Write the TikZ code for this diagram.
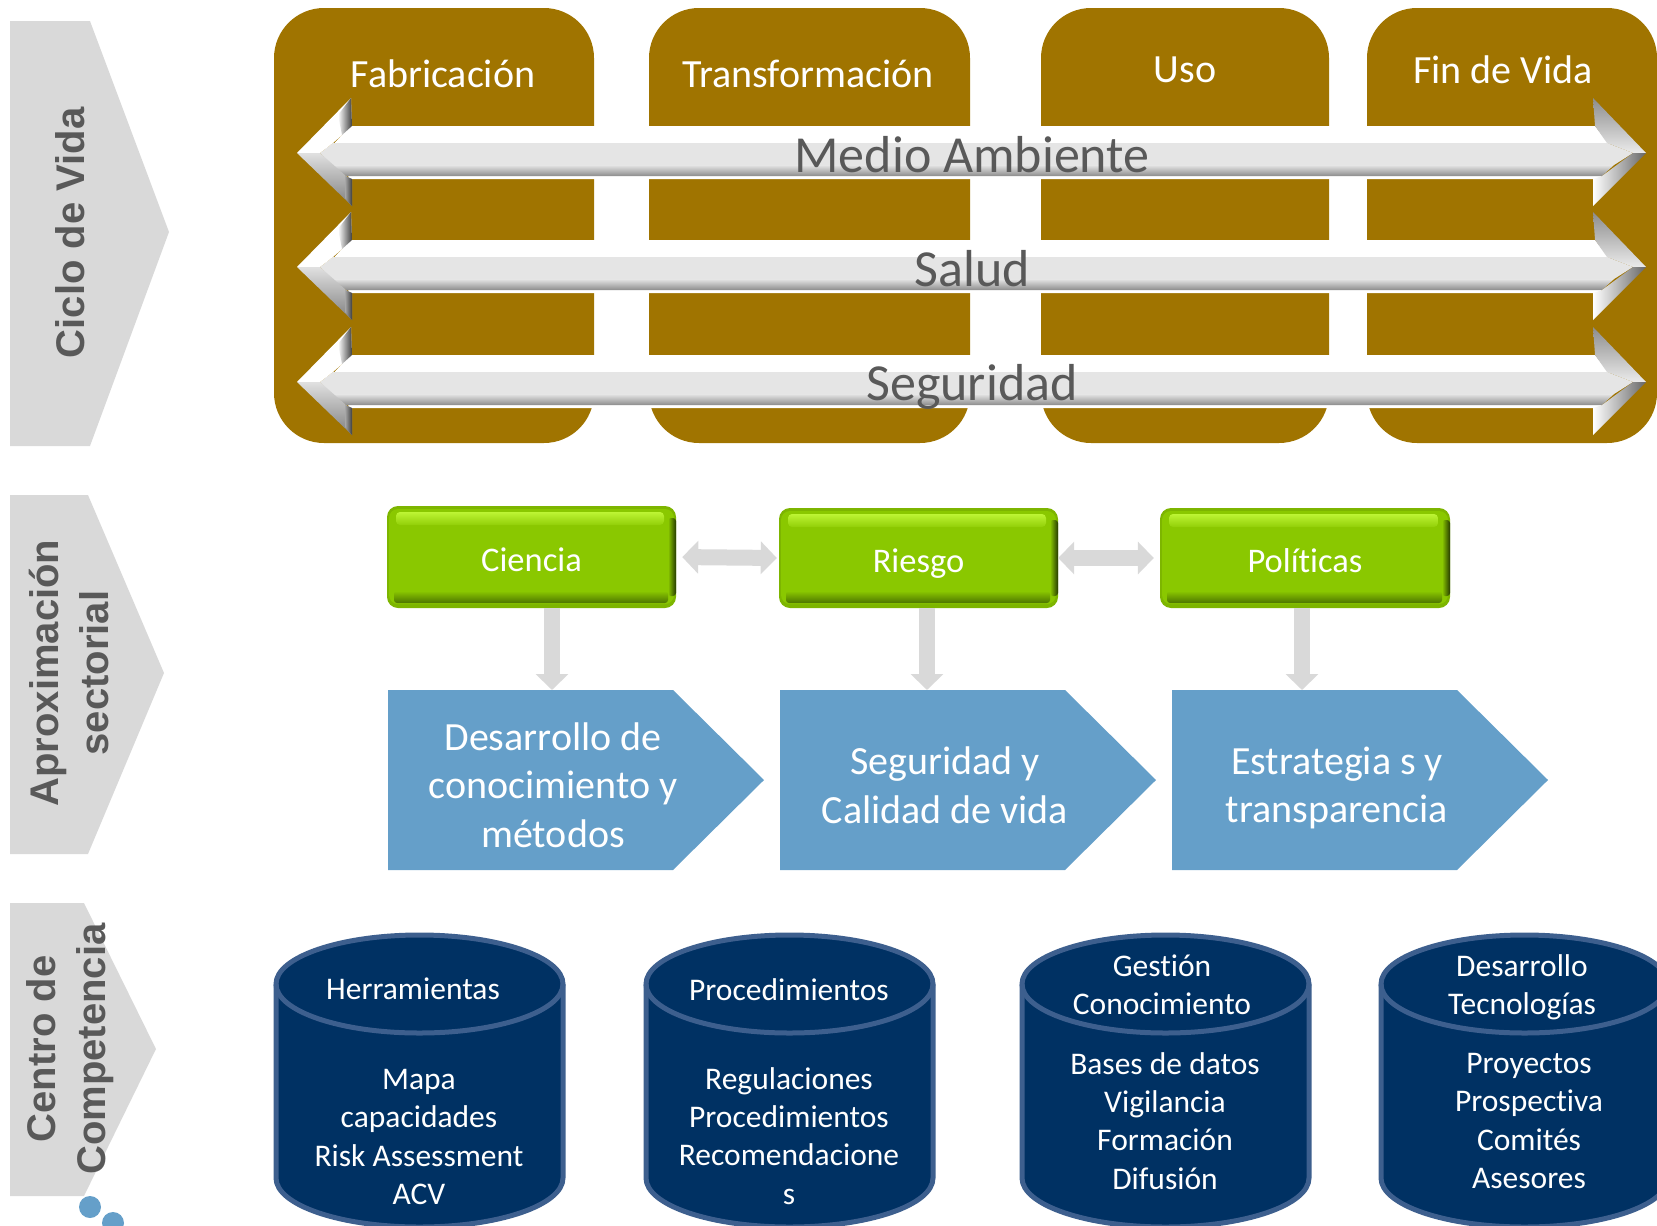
\documentclass[tikz,border=0pt]{standalone}
\usepackage{fontspec}
\setmainfont[Ligatures=NoCommon]{Carlito}
\newfontfamily\sidefont{Liberation Sans}
\usetikzlibrary{arrows.meta}
\definecolor{brownbox}{HTML}{A07400}
\definecolor{bluebox}{HTML}{659FC9}
\definecolor{navybox}{HTML}{003163}
\definecolor{navyline}{HTML}{3D5F8E}
\definecolor{sidegray}{HTML}{D9D9D9}
\definecolor{textgray}{HTML}{595959}
\definecolor{greenface}{HTML}{8AC800}
\definecolor{greenedge}{HTML}{7DB500}
\definecolor{greendark}{HTML}{263A00}
\definecolor{greenlow}{HTML}{4D7500}
\definecolor{greenlight}{HTML}{BDF534}
\begin{document}
\begin{tikzpicture}[
        x=1pt, y=-1pt,
        sidelabel/.style={rotate=90, text=textgray, align=center,
            font=\sidefont\bfseries\fontsize{40}{50}\selectfont},
        stagelabel/.style={text=white, font=\fontsize{40}{46}\selectfont},
        bandlabel/.style={text=textgray, font=\fontsize{52}{60}\selectfont},
        greenbox/.style={text=white, inner sep=0pt, text height=36pt, text depth=7pt,
            font=\fontsize{34.5}{40}\selectfont},
        chevlabel/.style={text=white, align=center, inner sep=0pt,
            font=\fontsize{40}{48.5}\selectfont},
        cyllabel/.style={text=white, align=center, inner sep=0pt,
            font=\fontsize{31.5}{38.3}\selectfont},
        blockarrow/.style={draw=sidegray, line width=16pt},
        bothtips/.style={{Triangle[length=16pt,width=32pt]}-{Triangle[length=16pt,width=32pt]}},
        downtip/.style={-{Triangle[length=16pt,width=32pt]}}
    ]
        \useasboundingbox (0,0) rectangle (1657,1226);
        \clip (0,0) rectangle (1657,1226);
        % Side chevrons
        \fill[sidegray] (10,21) -- (90,21) -- (169,232) -- (90,446) -- (10,446) -- cycle;
        \fill[sidegray] (10,495) -- (88,495) -- (164,673) -- (88,854) -- (10,854) -- cycle;
        \fill[sidegray] (10,903) -- (84,903) -- (156,1049) -- (84,1196) -- (10,1196) -- cycle;
        \node[sidelabel] (ciclo) at (70,233) {Ciclo de Vida};
        \node[sidelabel] (aprox) at (69,673) {Aproximación\\sectorial};
        \node[sidelabel] (centro) at (70,1049) {Centro de\\Competencia};
        \fill[bluebox] (90,1207) circle (11) (113,1223) circle (11);

        % Life cycle stages
        \foreach \xa/\xb/\lx/\ly/\name/\txt in {
            274/594/443/74/fabricacion/Fabricación,
            649/970/808/74/transformacion/Transformación,
            1041/1329/1185/70/uso/Uso,
            1367/1657/1503/70/fin/Fin de Vida
        } {
            \fill[brownbox, rounded corners=50pt] (\xa,8) rectangle (\xb,443);
            \node[stagelabel] (\name) at (\lx,\ly) {\txt};
        }

        % Cross-cutting bands
        \foreach \t/\dy/\name/\txt in {
            153/2/medio/Medio Ambiente,
            267/2/salud/Salud,
            382/5/seguridad/Seguridad
        } {
            \fill[white] (350,\t-27) -- (1595,\t-27) -- (1612,\t-5) -- (1600,\t+26) -- (350,\t+26) -- (330,\t-5) -- cycle;
            \fill[black!10] (333,\t-10) -- (1607,\t-10) -- (1633,\t) -- (1614,\t+12) -- (332,\t+12) -- (320,\t) -- cycle;
            \shade[top color=black!10, bottom color=black!45] (332,\t+12) -- (1614,\t+12) -- (1602,\t+23) -- (346,\t+23) -- cycle;
            % left head
            \fill[white] (297,\t) -- (351,\t-55) -- (352,\t-27) -- (333,\t-10) -- (320,\t) -- cycle;
            \shade[top color=black!12, bottom color=black!50] (297,\t) -- (320,\t) -- (346,\t+23)
                -- (352,\t+26) -- (352,\t+53) -- cycle;
            \shade[left color=white, right color=black!75] (338,\t-38) -- (351,\t-55) -- (352,\t-27) -- (342,\t-18) -- cycle;
            \shade[left color=black!35, right color=black!75] (345,\t+23) -- (352,\t+26) -- (352,\t+53) -- (345,\t+45) -- cycle;
            % right head
            \shade[top color=black!45, bottom color=black!8] (1593,\t-55) -- (1646,\t) -- (1633,\t) -- (1607,\t-10) -- (1595,\t-27) -- cycle;
            \shade[left color=white, right color=black!60] (1646,\t) -- (1633,\t) -- (1602,\t+23)
                -- (1593,\t+26) -- (1593,\t+53) -- cycle;
            \node[bandlabel] (\name) at (972,\t+\dy) {\txt};
        }

        % Sector boxes
        \foreach \xa/\xb/\ya/\name/\txt in {
            387/676/506/ciencia/Ciencia,
            779/1058/508/riesgo/Riesgo,
            1160/1450/508/politicas/Políticas
        } {
            \fill[greenedge, rounded corners=11pt] (\xa,\ya) rectangle (\xb,608);
            \fill[greenface, rounded corners=9pt] (\xa+2,\ya+3) rectangle (\xb-2,604);
            \shade[top color=greenlight, bottom color=greenface!85!greenlight, rounded corners=4pt] (\xa+9,\ya+6) rectangle (\xb-12,\ya+19);
            \shade[left color=greenface, right color=greendark, rounded corners=3pt] (\xb-8,\ya+12) rectangle (\xb,596);
            \shade[top color=greenface, bottom color=greenlow, rounded corners=3pt] (\xa+7,591) rectangle (\xb-8,603);
            \node[greenbox, minimum width=\xb-\xa, minimum height=608-\ya] (\name)
                at ({(\xa+\xb)/2},{(\ya+608)/2}) {\txt};
        }

        % Sector chevrons
        \foreach \cx in {388,780,1172} {
            \fill[bluebox] (\cx,690) -- (\cx+285,690) -- (\cx+376,780) -- (\cx+285,870) -- (\cx,870) -- cycle;
        }
        \node[chevlabel] (desarrollo) at (553,785) {Desarrollo de\\conocimiento y\\métodos};
        \node[chevlabel] (calidad) at (945,785) {Seguridad y\\Calidad de vida};
        \node[chevlabel] (estrategia) at (1337,788) {Estrategia s y\\transparencia};
        \coordinate (tipa) at (552,690);
        \coordinate (tipb) at (927,690);
        \coordinate (tipc) at (1302,690);

        % Connectors
        \draw[blockarrow, bothtips, shorten >=2pt, shorten <=6pt] (ciencia.east) -- (riesgo.west);
        \draw[blockarrow, bothtips, shorten >=6pt] (riesgo.east) -- (politicas.west);
        \draw[blockarrow, downtip] (ciencia.south -| tipa) -- (tipa);
        \draw[blockarrow, downtip] (riesgo.south -| tipb) -- (tipb);
        \draw[blockarrow, downtip] (politicas.south -| tipc) -- (tipc);

        % Competence cylinders
        \foreach \cx in {276,646,1022,1381} {
            \filldraw[fill=navybox, draw=navyline, line width=5pt] (\cx,984) arc[start angle=180, end angle=360, x radius=143.5, y radius=49]
                -- (\cx+287,1178) arc[start angle=0, end angle=180, x radius=143.5, y radius=49] -- cycle;
            \draw[navyline, line width=5pt] (\cx,984) arc[start angle=180, end angle=0, x radius=143.5, y radius=49];
        }
        \node[cyllabel] (herramientas) at (413,989) {Herramientas};
        \node[cyllabel] (mapa) at (419,1137) {Mapa\\capacidades\\Risk Assessment\\ACV};
        \node[cyllabel] (procedimientos) at (789,990) {Procedimientos};
        \node[cyllabel] (regulaciones) at (789,1136) {Regulaciones\\Procedimientos\\Recomendacione\\s};
        \node[cyllabel] (gestion) at (1162,985) {Gestión\\Conocimiento};
        \node[cyllabel] (bases) at (1165,1121) {Bases de datos\\Vigilancia\\Formación\\Difusión};
        \node[cyllabel] (tecnologias) at (1522,987) {Desarrollo\\Tecnologías};
        \node[cyllabel] (proyectos) at (1529,1121) {Proyectos\\Prospectiva\\Comités\\Asesores};
    \end{tikzpicture}
\end{document}
